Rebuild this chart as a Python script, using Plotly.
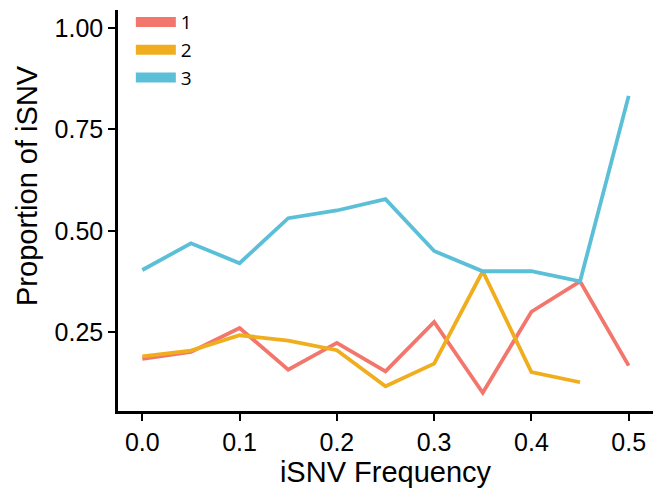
import plotly.graph_objects as go

freq = [0.0, 0.05, 0.1, 0.15, 0.2, 0.25, 0.3, 0.35, 0.4, 0.45, 0.5]
series_names = ["1", "2", "3"]
s1 = [0.184, 0.201, 0.26, 0.157, 0.223, 0.153, 0.275, 0.1, 0.3, 0.375, 0.167]
s2 = [0.19, 0.204, 0.242, 0.229, 0.205, 0.116, 0.172, 0.4, 0.151, 0.126, None]
s3 = [0.403, 0.469, 0.42, 0.531, 0.55, 0.578, 0.45, 0.4, 0.4, 0.375, 0.833]
colors = ["#F2766C", "#F0AD1D", "#5BBFD8"]

y_ticks = [0.25, 0.5, 0.75, 1.0]
y_ticklabels = ["0.25", "0.50", "0.75", "1.00"]
x_ticks = [0.0, 0.1, 0.2, 0.3, 0.4, 0.5]
x_ticklabels = ["0.0", "0.1", "0.2", "0.3", "0.4", "0.5"]
x_title = "iSNV Frequency"
y_title = "Proportion of iSNV"

fig = go.Figure()
for name, ys, c in zip(series_names, [s1, s2, s3], colors):
    fig.add_trace(go.Scatter(x=freq, y=ys, mode="lines", name=name,
                             line=dict(color=c, width=3.8), showlegend=False,
                             connectgaps=False))
for name, c in zip(series_names, colors):
    fig.add_trace(go.Scatter(x=[None], y=[None], mode="lines", name=name,
                             line=dict(color=c, width=10), showlegend=True))

axis_common = dict(showline=True, linecolor="black", linewidth=2.5, ticks="outside",
                   tickcolor="black", ticklen=7, tickwidth=2, showgrid=False,
                   zeroline=False, tickfont=dict(family="Liberation Sans", size=25, color="black"))

fig.update_layout(
    width=653, height=488,
    margin=dict(l=118, r=0, t=10, b=77),
    plot_bgcolor="white", paper_bgcolor="white",
    xaxis=dict(range=[-0.025, 0.525], tickvals=x_ticks, ticktext=x_ticklabels,
               title=dict(text=x_title, font=dict(family="Liberation Sans", size=29, color="black"), standoff=8),
               **axis_common),
    yaxis=dict(range=[0.055, 1.045], tickvals=y_ticks, ticktext=y_ticklabels,
               **axis_common),
    legend=dict(x=0.024, y=1.017, xanchor="left", yanchor="top", bgcolor="rgba(0,0,0,0)",
                font=dict(family="Open Sans", size=19, color="black"), itemwidth=40,
                tracegroupgap=0),
    annotations=[dict(text=y_title, textangle=-90, xref="paper", yref="paper",
                      x=(27 - 118) / 535, y=(411 - 185) / 401, xanchor="center", yanchor="middle",
                      showarrow=False, font=dict(family="Liberation Sans", size=29, color="black"))],
)
fig.write_html("out.html")
